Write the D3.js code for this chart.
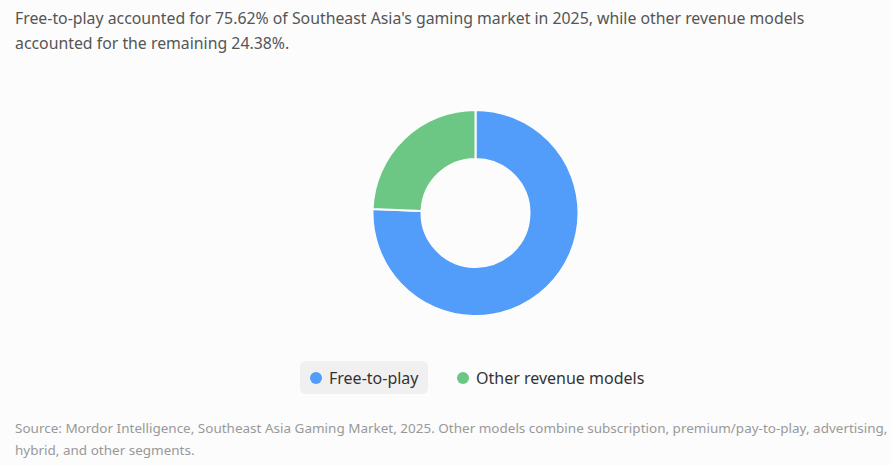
<!DOCTYPE html>
<html><head><meta charset="utf-8">
<script src="https://cdn.jsdelivr.net/npm/d3@7/dist/d3.min.js"></script>
<style>
html,body{margin:0;padding:0;background:#fcfcfc;}
svg{display:block;font-family:"Noto Sans","Open Sans",sans-serif;}
</style></head>
<body><svg id="c" width="892" height="465"></svg>
<script>
const categories = ["Free-to-play", "Other revenue models"];
const values = [75.62, 24.38];
const colors = ["#529cfa", "#6cc784"];
const titleLines = ["Free-to-play accounted for 75.62% of Southeast Asia's gaming market in 2025, while other revenue models", "accounted for the remaining 24.38%."];
const sourceLines = ["Source: Mordor Intelligence, Southeast Asia Gaming Market, 2025. Other models combine subscription, premium/pay-to-play, advertising,", "hybrid, and other segments."];

const svg = d3.select("#c");
svg.append("rect").attr("width",892).attr("height",465).attr("fill","#fcfcfc");

function fitText(sel, target){
  const w = sel.node().getComputedTextLength();
  const fs = parseFloat(sel.attr("font-size"));
  sel.attr("font-size", fs*target/w);
}

const t1 = svg.append("text").attr("x",15).attr("y",24).attr("font-size",16).attr("fill","#555").text(titleLines[0]);
fitText(t1, 790);
const fsT = t1.attr("font-size");
svg.append("text").attr("x",15).attr("y",49).attr("font-size",fsT).attr("fill","#555").text(titleLines[1]);

const s1 = svg.append("text").attr("x",15).attr("y",433).attr("font-size",13).attr("fill","#999").text(sourceLines[0]);
fitText(s1, 873);
svg.append("text").attr("x",15).attr("y",455).attr("font-size",s1.attr("font-size")).attr("fill","#999").text(sourceLines[1]);

const pie = d3.pie().sort(null).value(d=>d)(values);
const arc = d3.arc().innerRadius(54).outerRadius(103);
const g = svg.append("g").attr("transform","translate(475.5,213)");
g.selectAll("path").data(pie).join("path")
  .attr("d",arc).attr("fill",(d,i)=>colors[i])
  .attr("stroke","#fcfcfc").attr("stroke-width",2);

// legend
const leg = svg.append("g");
leg.append("rect").attr("x",300).attr("y",361).attr("width",128).attr("height",33).attr("rx",6).attr("fill","#f0f0f0");
const lx = [316, 463];
categories.forEach((c,i)=>{
  leg.append("circle").attr("cx",lx[i]).attr("cy",378).attr("r",6).attr("fill",colors[i]);
  leg.append("text").attr("x",lx[i]+13).attr("y",384).attr("font-size",16).attr("fill","#333").text(c);
});
</script></body></html>
